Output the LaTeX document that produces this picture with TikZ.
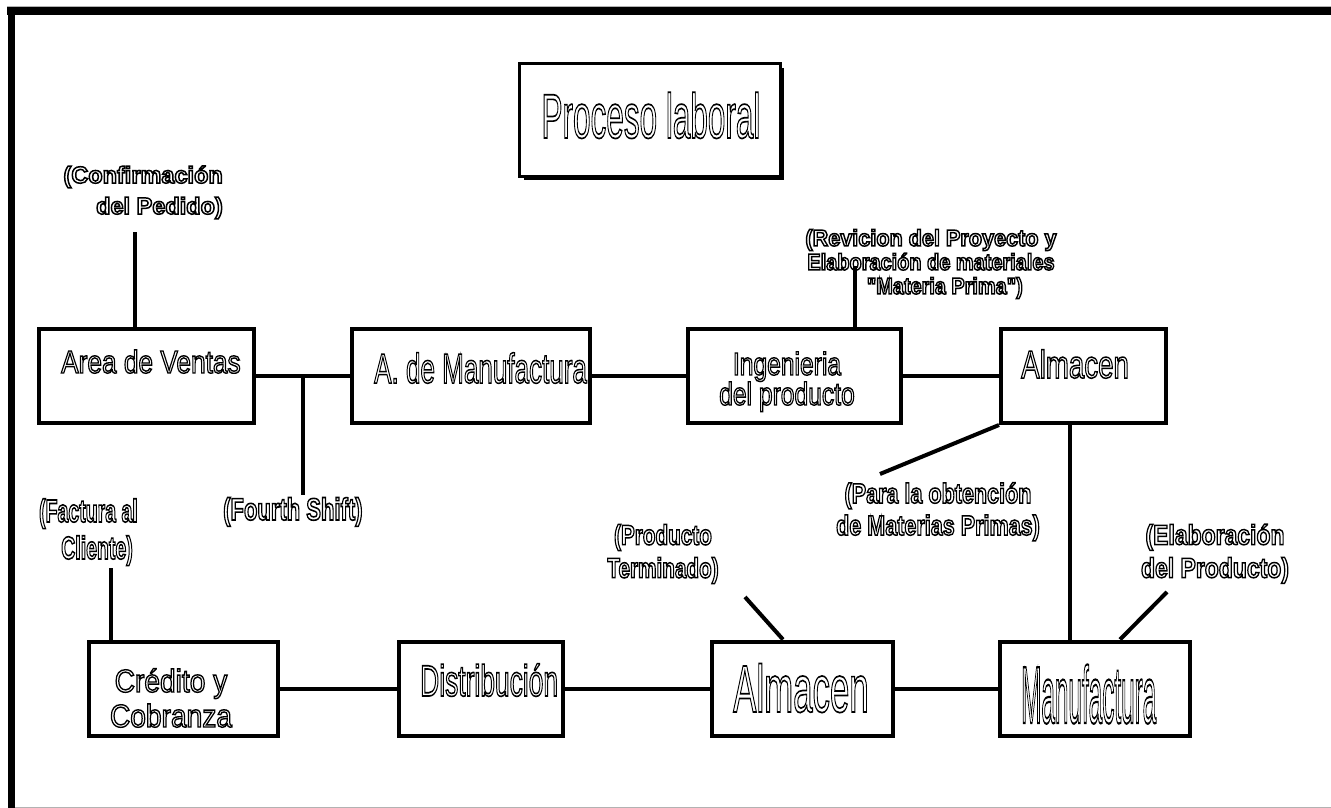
\documentclass[tikz,border=0pt]{standalone}
\usepackage{fontspec}
\setmainfont{Liberation Sans}[Ligatures=TeXOff]
\usepackage{graphicx}
\usetikzlibrary{shadows}
\newcommand\olt[3][1.3]{\scalebox{#2}[1]{\special{pdf:literal direct 1 Tr #1 w}#3\special{pdf:literal direct 0 Tr}}}
\tikzset{
  conn/.style={line width=4pt},
  box/.style={draw, line width=4pt, inner sep=0pt, fill=white},
  txt/.style={inner sep=0pt},
}
\begin{document}
\begin{tikzpicture}[x=1pt,y=-1pt]
\useasboundingbox (0,0) rectangle (1331,808);
% outer frame
\fill[black!30] (7,6.3) rectangle (1331,7.5);
\fill[black] (7,7.5) rectangle (1331,15.5);
\fill[black] (7.5,7.5) rectangle (15,808);
\fill[black!30] (15,806.5) rectangle (1331,808);

% named free ends
\coordinate (confC) at (135,232);
\coordinate (fsC) at (303,495);
\coordinate (revC) at (855,266);
\coordinate (paraC) at (880,474);
\coordinate (vx) at (1070,0);
\coordinate (elabC) at (1167,592);
\coordinate (elabE) at (1120,0);
\coordinate (prodC) at (745,597);
\coordinate (prodE) at (783,0);
\coordinate (factC) at (111,568);

% boxes
\node[draw, line width=3pt, fill=white, inner sep=0pt, minimum width=260.5pt, minimum height=112pt,
      general shadow={fill=black, shadow xshift=4pt, shadow yshift=-4pt}] (proc) at (649.75,120) {};
\node[box, minimum width=215pt, minimum height=94pt] (area) at (146.5,376) {};
\node[box, minimum width=238pt, minimum height=94pt] (am) at (471,376) {};
\node[box, minimum width=213pt, minimum height=94pt] (ing) at (794.5,376) {};
\node[box, minimum width=165pt, minimum height=94pt] (alm) at (1083.5,376) {};
\node[box, minimum width=189pt, minimum height=94pt] (cred) at (183.5,688.5) {};
\node[box, minimum width=164pt, minimum height=94pt] (dist) at (481,688.5) {};
\node[box, minimum width=181pt, minimum height=94pt] (almB) at (802.5,688.5) {};
\node[box, minimum width=190pt, minimum height=94pt] (manu) at (1095,688.5) {};

% connectors
\draw[conn] (confC) -- (area.north -| confC);
\draw[conn] (area.east) -- (am.west);
\draw[conn] (area.east -| fsC) -- (fsC);
\draw[conn] (am.east) -- (ing.west);
\draw[conn] (ing.east) -- (alm.west);
\draw[conn] (revC) -- (ing.north -| revC);
\draw[conn] (alm.south west) -- (paraC);
\draw[conn] (alm.south -| vx) -- (manu.north -| vx);
\draw[conn] (elabC) -- (manu.north -| elabE);
\draw[conn] (prodC) -- (almB.north -| prodE);
\draw[conn] (factC) -- (cred.north -| factC);
\draw[conn] (cred.east) -- (dist.west);
\draw[conn] (dist.east) -- (almB.west);
\draw[conn] (almB.east) -- (manu.west);

% box texts
\node[txt, anchor=base, font=\fontsize{63}{70}\selectfont] (procT) at (651,138) {\olt[1.7]{0.5}{Proceso laboral}};
\node[txt, anchor=base west, font=\fontsize{32}{38}\selectfont] (areaT) at (61,373) {\olt[1.4]{0.82}{Area de Ventas}};
\node[txt, anchor=base west, font=\fontsize{42}{48}\selectfont] (amT) at (374,383) {\olt[1.5]{0.62}{A. de Manufactura}};
\node[txt, align=center, font=\fontsize{32}{30}\selectfont] (ingT) at (787,381.7) {\olt[1.4]{0.77}{Ingenieria}\\\olt[1.4]{0.77}{del producto}};
\node[txt, anchor=base west, font=\fontsize{39}{45}\selectfont] (almT) at (1021,378) {\olt[1.5]{0.71}{Almacen}};
\node[txt, align=center, font=\fontsize{32}{35}\selectfont] (credT) at (171,697.9) {\olt[1.4]{0.88}{Crédito y}\\\olt[1.4]{0.88}{Cobranza}};
\node[txt, anchor=base west, font=\fontsize{44}{50}\selectfont] (distT) at (420,696) {\olt[1.6]{0.6}{Distribución}};
\node[txt, anchor=base west, font=\fontsize{67}{75}\selectfont] (almBT) at (733,712) {\olt[1.7]{0.52}{Almacen}};
\node[txt, anchor=base west, font=\fontsize{81}{90}\selectfont] (manuT) at (1021,723) {\olt[2.2]{0.30}{Manufactura}};

% labels
\node[txt, align=right, anchor=east, font=\fontsize{23.5}{31}\selectfont\bfseries] (conf) at (223,192.4)
  {\olt[1.5]{1}{(Confirmación}\\\olt[1.5]{1}{del Pedido)}};
\node[txt, align=center, font=\fontsize{23}{24}\selectfont\bfseries] (rev) at (931,264)
  {\olt[1.5]{0.94}{(Revicion del Proyecto y}\\\olt[1.5]{0.867}{Elaboración de materiales}\\\olt[1.5]{0.865}{\hspace*{32pt}"Materia Prima")}};
\node[txt, align=right, anchor=east, font=\fontsize{32}{37}\selectfont\bfseries] (fact) at (138,532.2)
  {\olt[1.6]{0.61}{(Factura al}\\\olt[1.6]{0.61}{Cliente)}\hspace*{5pt}};
\node[txt, anchor=base west, font=\fontsize{31}{36}\selectfont\bfseries] (fs) at (223,520)
  {\olt[1.6]{0.71}{(Fourth Shift)}};
\node[txt, align=center, font=\fontsize{28}{32}\selectfont\bfseries] (para) at (938,511.7)
  {\olt[1.5]{0.77}{(Para la obtención}\\\olt[1.5]{0.77}{de Materias Primas)}};
\node[txt, align=center, font=\fontsize{28}{33}\selectfont\bfseries] (elab) at (1215,553.7)
  {\olt[1.5]{0.82}{(Elaboración}\\\olt[1.5]{0.82}{del Producto)}};
\node[txt, align=center, font=\fontsize{28}{33}\selectfont\bfseries] (prod) at (663,554)
  {\olt[1.5]{0.74}{(Producto}\\\olt[1.5]{0.74}{Terminado)}};
\end{tikzpicture}
\end{document}
